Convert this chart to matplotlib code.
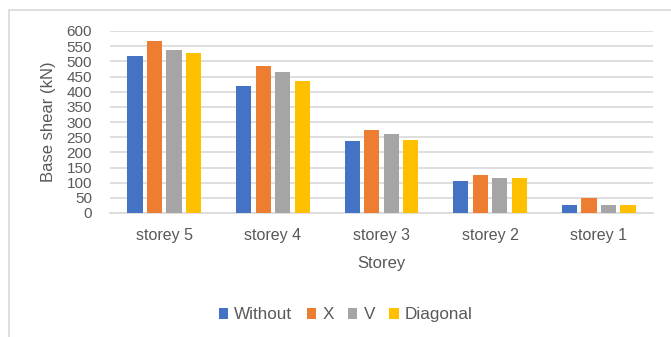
import matplotlib.pyplot as plt
from matplotlib.patches import Rectangle
import numpy as np

plt.rcParams['font.family'] = ['Liberation Sans', 'DejaVu Sans']

storeys = ["storey 5", "storey 4", "storey 3", "storey 2", "storey 1"]
without = [519, 418, 236, 104, 25]
x_brace = [568, 486, 272, 126, 49]
v_brace = [537, 465, 260, 116, 28]
diagonal = [526, 434, 242, 116, 28]

series = [("Without", without, "#4472C4"),
          ("X", x_brace, "#ED7D31"),
          ("V", v_brace, "#A5A5A5"),
          ("Diagonal", diagonal, "#FFC000")]

text_col = "#595959"
grid_col = "#d9d9d9"

fig = plt.figure(figsize=(6.71, 3.37), dpi=100)
# outer chart frame
fig.patches.append(Rectangle((9 / 671, -0.1), 1.2, (337 - 10) / 337 + 0.1,
                             transform=fig.transFigure, fill=False,
                             edgecolor=grid_col, linewidth=1.2))

ax = fig.add_axes([110 / 671, 124 / 337, 543 / 671, 182 / 337])

x = np.arange(len(storeys))
slot = 0.18
width = 0.14
for i, (name, vals, col) in enumerate(series):
    ax.bar(x + (i - 1.5) * slot, vals, width, color=col, label=name, zorder=3)

ax.set_xlim(-0.5, len(storeys) - 0.5)
ax.set_ylim(0, 600)
ax.set_yticks(range(0, 601, 50))
ax.set_xticks(x)
ax.set_xticklabels(storeys)
ax.grid(axis='y', color=grid_col, linewidth=1.2, zorder=0)
for s in ["top", "right", "left"]:
    ax.spines[s].set_visible(False)
ax.spines["bottom"].set_color(grid_col)
ax.spines["bottom"].set_linewidth(1.2)
ax.tick_params(axis='both', length=0, colors=text_col)
ax.tick_params(axis='y', pad=13, labelsize=11)
ax.tick_params(axis='x', pad=11, labelsize=11.5)

ax.set_ylabel("Base shear (kN)", color=text_col, fontsize=12)
ax.yaxis.set_label_coords(-0.114, 0.5)
ax.yaxis.label.set_va('center')
ax.set_xlabel("Storey", color=text_col, fontsize=12)
ax.xaxis.set_label_coords(0.5, -0.28)
ax.xaxis.label.set_va('center')

leg = ax.legend(loc='center', bbox_to_anchor=(0.434, -0.56), ncol=4,
                frameon=False, fontsize=12.3, handlelength=0.55, handleheight=0.55,
                handletextpad=0.35, columnspacing=0.85, borderpad=0)
for t in leg.get_texts():
    t.set_color(text_col)

fig.savefig("out.png", dpi=100)
